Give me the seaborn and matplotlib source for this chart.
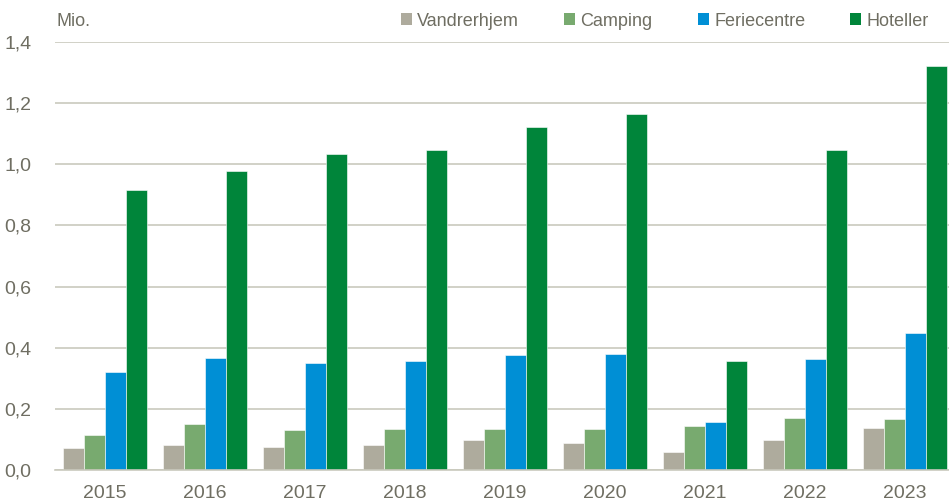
import matplotlib
matplotlib.use("Agg")
import matplotlib.pyplot as plt
import pandas as pd
import seaborn as sns
from matplotlib.patches import Patch

YEARS = ["2015", "2016", "2017", "2018", "2019", "2020", "2021", "2022", "2023"]
SERIES = ["Vandrerhjem", "Camping", "Feriecentre", "Hoteller"]
VANDRERHJEM = [0.072, 0.081, 0.074, 0.083, 0.097, 0.089, 0.058, 0.099, 0.137]
CAMPING = [0.113, 0.149, 0.131, 0.134, 0.134, 0.135, 0.144, 0.170, 0.166]
FERIECENTRE = [0.322, 0.366, 0.351, 0.355, 0.376, 0.381, 0.156, 0.363, 0.449]
HOTELLER = [0.917, 0.977, 1.033, 1.047, 1.121, 1.164, 0.358, 1.047, 1.321]
Y_TICKS = [0.0, 0.2, 0.4, 0.6, 0.8, 1.0, 1.2, 1.4]

COLORS = {
    "Vandrerhjem": "#AEAB9D",
    "Camping": "#78AA6F",
    "Feriecentre": "#008FD5",
    "Hoteller": "#00853A",
}
TEXT = "#6F6E62"
GRID = "#C9C9BD"
FONT = ["Liberation Sans Narrow", "Liberation Sans", "DejaVu Sans"]


def build_frame() -> pd.DataFrame:
    rows = []
    for name, values in zip(SERIES, [VANDRERHJEM, CAMPING, FERIECENTRE, HOTELLER]):
        for year, v in zip(YEARS, values):
            rows.append({"year": year, "type": name, "value": v})
    return pd.DataFrame(rows)


def main() -> None:
    sns.set_theme(style="white")
    plt.rcParams["font.family"] = FONT

    df = build_frame()
    fig = plt.figure(figsize=(9.49, 5.04), dpi=100)
    ax = fig.add_axes([55 / 949, 34 / 504, 894 / 949, 428 / 504])

    sns.barplot(
        data=df, x="year", y="value", hue="type", order=YEARS, hue_order=SERIES,
        palette=COLORS, saturation=1, width=0.84, edgecolor="white", linewidth=0.4,
        legend=False, ax=ax,
    )
    ax.set_xlim(-0.5, 8.44)
    ax.set_ylim(0, 1.4)
    ax.set_yticks(Y_TICKS)
    ax.set_yticklabels([f"{t:.1f}".replace(".", ",") for t in Y_TICKS])
    ax.yaxis.grid(True, color=GRID, linewidth=1.2)
    ax.set_axisbelow(True)
    for side in ["top", "right", "left"]:
        ax.spines[side].set_visible(False)
    ax.spines["bottom"].set_color(GRID)
    ax.spines["bottom"].set_linewidth(1.2)
    ax.tick_params(axis="both", length=0, labelsize=14, colors=TEXT)
    ax.tick_params(axis="x", pad=11)
    ax.tick_params(axis="y", pad=17)
    ax.set_xlabel("")
    ax.set_ylabel("")

    fig.text(57 / 949, 1 - 22 / 504, "Mio.", fontsize=13, color=TEXT, va="center", ha="left")

    handles = [Patch(facecolor=COLORS[s], edgecolor="none") for s in SERIES]
    fig.legend(
        handles, SERIES, loc="center left", bbox_to_anchor=(401 / 949, 1 - 21 / 504),
        ncol=4, frameon=False, fontsize=13, handlelength=0.6, handleheight=0.6,
        handletextpad=0.3, columnspacing=2.5, labelcolor=TEXT, borderpad=0, borderaxespad=0,
    )

    fig.savefig("out.png", dpi=100, facecolor="white")
    plt.close(fig)


if __name__ == "__main__":
    main()
